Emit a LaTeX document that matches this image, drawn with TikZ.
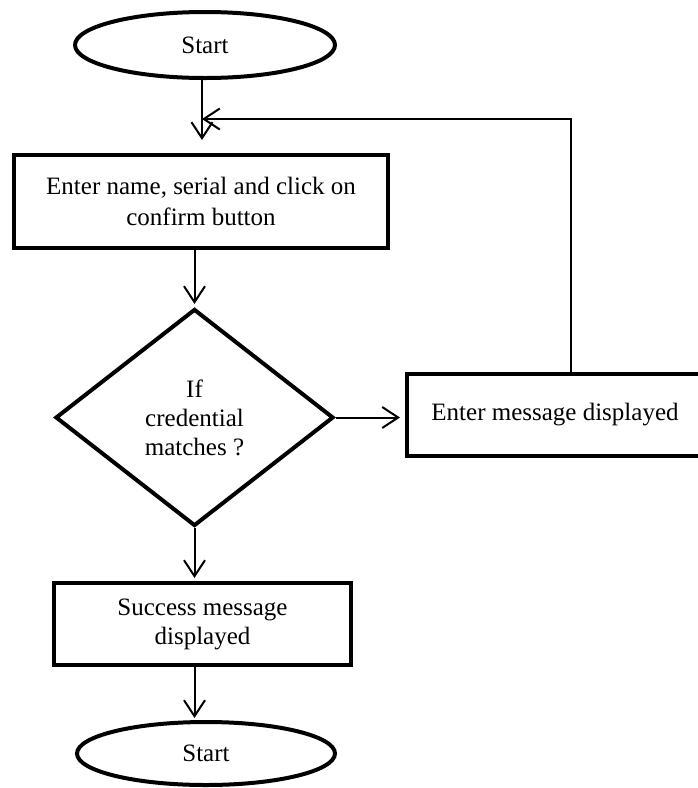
\documentclass[tikz,border=0pt]{standalone}
\usepackage{fontspec}
\setmainfont{Liberation Serif}
\newfontfamily\serifface{Liberation Serif}
\usetikzlibrary{shapes.geometric,arrows.meta}
\tikzset{
  base/.style={draw=black, line width=4pt, inner sep=0pt, align=center,
               font=\serifface\fontsize{25}{29}\selectfont},
  term/.style={base, ellipse},
  procbox/.style={base, rectangle},
  decide/.style={base, diamond},
  arr/.style={line width=2pt, -{Straight Barb[length=16pt,width=21pt,line width=2pt]}},
  plain/.style={line width=2pt}
}
\begin{document}
\begin{tikzpicture}[x=1pt,y=-1pt]
\useasboundingbox (0,0) rectangle (697,788);
\node[term, minimum width=260pt, minimum height=66pt] (start) at (205,45) {Start};
\node[procbox, minimum width=374pt, minimum height=93pt,
      font=\serifface\fontsize{25}{31}\selectfont] (box1) at (201,201.5)
      {Enter name, serial and click on\\confirm button};
\node[decide, minimum width=278pt, minimum height=217pt] (dec) at (194.5,417.5)
      {If\\credential\\matches ?};
\node[procbox, minimum width=296pt, minimum height=82pt] (box2) at (555,415)
      {Enter message displayed};
\node[procbox, minimum width=297pt, minimum height=82pt] (box3) at (202.5,624)
      {Success message\\displayed};
\node[term, minimum width=258pt, minimum height=63pt] (stop) at (206,753.5) {Start};
\coordinate (join) at (202,119);
% connectors
\draw[arr, shorten >=13pt] (start.south -| join) -- (join |- box1.north);
\draw[plain] ([xshift=16pt]box2.north) |- ([xshift=8pt]join);
\draw[arr] ([xshift=16pt]join) -- (join);
\draw[arr, shorten >=3pt] (dec.north |- box1.south) -- (dec.north);
\draw[arr, shorten >=5pt] (dec.east) -- (dec.east -| box2.west);
\draw[arr, shorten >=3pt] (dec.south) -- (dec.south |- box3.north);
\draw[arr, shorten >=2pt] (dec.south |- box3.south) -- (dec.south |- stop.north);
\end{tikzpicture}
\end{document}
